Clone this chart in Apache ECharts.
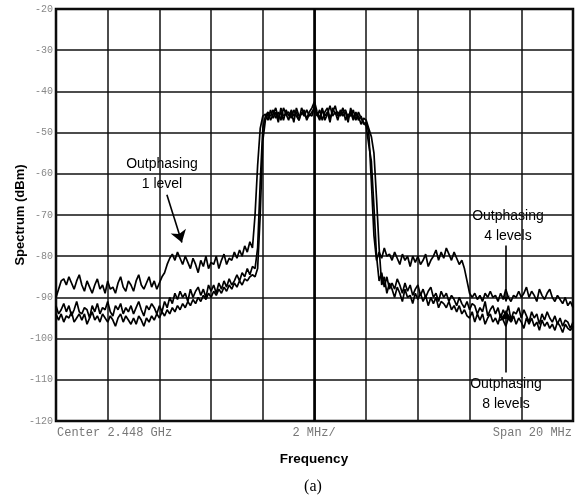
<!DOCTYPE html>
<html>
<head>
<meta charset="utf-8">
<style>html,body{margin:0;padding:0;background:#fff;}#c{width:576px;height:499px;}</style>
<script src="https://cdn.jsdelivr.net/npm/echarts@6/dist/echarts.min.js"></script>
</head>
<body>
<div id="c"></div>
<script>
// Frequency offset from centre (MHz), sweep points every 0.1 MHz from -10 to +10
const startFreq = -10;
const stepFreq = 0.1;
const yTicks = [-120, -110, -100, -90, -80, -70, -60, -50, -40, -30, -20];

// Outphasing 1 level (dBm)
const level1 = [
  -90, -88, -86, -85.5, -87, -85, -86.5, -88, -86, -84.5,
  -87, -88.5, -86, -87.5, -89, -87, -85.5, -88, -87, -89,
  -86, -88, -87.5, -89, -86.5, -85, -87.5, -88.5, -86, -87,
  -88.5, -86, -84.5, -87, -88, -86.5, -85, -87.5, -86, -88,
  -86.5, -85, -84, -82, -80.5, -79.5, -81, -79, -80.5, -82,
  -80, -81.5, -83, -80.5, -82, -84, -81, -82.5, -80, -83,
  -81.5, -82, -80, -83, -81, -79.5, -82, -80.5, -81, -79,
  -80.5, -78.5, -80, -77.5, -79, -76.5, -78, -70, -58, -49,
  -46, -45.5, -47, -44.5, -46.5, -45, -47.5, -44, -46, -45.5,
  -47, -44.5, -46, -45, -47, -44, -45.5, -46.5, -45, -44,
  -42.5, -45, -46.5, -44, -47, -45.5, -43.5, -46, -45, -47,
  -44.5, -46, -45, -47.5, -44, -46.5, -45, -47, -46, -48,
  -47.5, -50, -62, -75, -81, -79, -80.5, -78, -80, -79.5,
  -81, -79, -80.5, -82, -79.5, -81, -80, -82.5, -80, -81.5,
  -80, -82, -81, -79.5, -82.5, -81, -80, -78.5, -81, -79,
  -80.5, -78, -79.5, -81, -79, -80.5, -82, -81, -83, -86,
  -89, -90, -89, -90.5, -89.5, -91, -89, -90, -88.5, -90,
  -89.5, -91, -89, -90.5, -88, -90, -91, -89.5, -90, -88.5,
  -90, -89, -87.5, -90, -88.5, -89.5, -91, -88, -89.5, -90.5,
  -89, -88, -90, -91, -89.5, -90.5, -91.5, -90, -92, -91,
  -92.5
];

// Outphasing 4 levels (dBm)
const level4 = [
  -92, -94, -93, -91.5, -93.5, -92, -94.5, -93, -91, -93.5,
  -94, -92.5, -93, -95, -92, -93.5, -91.5, -94, -92.5, -93,
  -91, -93.5, -94.5, -92, -93, -91.5, -94, -92.5, -93.5, -92,
  -94, -92.5, -91, -93, -94.5, -92, -93, -91.5, -92.5, -94,
  -92, -93.5, -91, -92.5, -90, -91.5, -89, -90.5, -88.5, -90,
  -89, -91, -88, -90, -88.5, -87.5, -89.5, -88, -90, -87,
  -88.5, -87, -89, -86.5, -88, -86, -87.5, -85.5, -87, -86,
  -84.5, -86, -84, -85, -83, -84.5, -82.5, -83, -78, -62,
  -49, -46, -45, -47, -45.5, -44, -46.5, -45, -47, -44.5,
  -46, -45, -47.5, -44, -46, -45.5, -44.5, -47, -45.5, -46,
  -43.5, -46, -44.5, -47, -45, -44, -46.5, -45, -43.5, -46,
  -45.5, -44, -47, -45.5, -46, -44.5, -47, -45, -46.5, -47.5,
  -48.5, -53, -57, -68, -80, -86, -84, -87.5, -85, -88,
  -86.5, -88, -85.5, -87, -89, -86.5, -88.5, -87, -89.5, -88,
  -87, -89.5, -88, -90, -88.5, -87.5, -90, -89, -91, -88.5,
  -90, -89, -91, -89.5, -90.5, -92, -90, -91.5, -92.5, -91,
  -93, -91.5, -92, -94, -92.5, -93.5, -91, -94.5, -93, -92,
  -94, -92.5, -95, -93, -94.5, -92, -95.5, -93.5, -94, -92.5,
  -95, -93, -94.5, -96, -93.5, -95, -94, -96.5, -94, -95.5,
  -93.5, -95, -96, -94.5, -96.5, -95, -97, -95.5, -96, -97.5,
  -96
];

// Outphasing 8 levels (dBm)
const level8 = [
  -94, -95.5, -94, -96, -94.5, -95, -93.5, -96, -95, -94,
  -95.5, -94, -96.5, -95, -93.5, -95.5, -94.5, -96, -94, -95,
  -96, -94.5, -95.5, -97, -95, -94, -96, -94.5, -95.5, -96.5,
  -95, -96.5, -94.5, -95.5, -97, -95, -96, -94.5, -95.5, -94,
  -95, -93.5, -94.5, -93, -94, -92.5, -93.5, -92, -93, -91.5,
  -92.5, -91, -92, -90.5, -91.5, -90, -91, -89.5, -90.5, -89,
  -90, -88.5, -89.5, -88, -89, -87.5, -88.5, -87, -88, -86.5,
  -87.5, -86, -87, -85.5, -86, -85, -84.5, -85, -83, -70,
  -52, -47, -45.5, -46, -44.5, -46.5, -45, -47, -44, -45.5,
  -45, -46.5, -44.5, -46, -47, -45, -46, -44.5, -46, -45,
  -44, -45.5, -47, -44.5, -46, -45, -47.5, -44, -45.5, -45,
  -46, -45, -44.5, -46.5, -45, -47, -45.5, -46, -48, -46.5,
  -47, -49, -51, -55, -66, -78, -87, -85, -89, -86.5,
  -88, -90, -87.5, -89, -91, -88, -90, -89.5, -91.5, -89,
  -90.5, -89, -91, -89.5, -92, -90, -91.5, -90, -92.5, -91,
  -91.5, -92.5, -91, -93, -92, -93.5, -92, -94, -93, -94.5,
  -95, -93.5, -96, -94, -95.5, -94, -96.5, -95, -94, -96,
  -95, -96.5, -94, -95.5, -97, -95, -96, -94.5, -96.5, -95,
  -96, -97.5, -95, -96.5, -95, -97, -96, -98, -95.5, -97,
  -96, -97.5, -96.5, -98, -96, -97, -98.5, -96.5, -97.5, -98,
  -97
];

function toPairs(arr) {
  return arr.map((v, i) => [+(startFreq + i * stepFreq).toFixed(2), v]);
}

const chart = echarts.init(document.getElementById('c'), null, {renderer: 'canvas'});
const lineStyle = {color: '#000', width: 1.7};
const arrowStyle = {color: '#000', width: 1.6, type: 'solid'};

chart.setOption({
  animation: false,
  backgroundColor: '#fff',
  grid: {left: 56, top: 9, right: 3, bottom: 78, show: true, borderColor: '#000', borderWidth: 2.5, backgroundColor: 'transparent'},
  xAxis: {
    type: 'value', min: -10, max: 10, interval: 2,
    axisLine: {show: false}, axisTick: {show: false}, axisLabel: {show: false},
    splitLine: {show: true, lineStyle: {color: '#111', width: 1.5}}
  },
  yAxis: {
    type: 'value', min: yTicks[0], max: yTicks[yTicks.length - 1], interval: 10,
    axisLine: {show: false}, axisTick: {show: false},
    axisLabel: {color: '#888', fontFamily: 'Liberation Mono', fontSize: 10, margin: 3},
    splitLine: {show: true, lineStyle: {color: '#111', width: 1.5}}
  },
  series: [
    {
      type: 'line', data: toPairs(level1), showSymbol: false, lineStyle: lineStyle, silent: true, z: 3,
      markLine: {
        silent: true, animation: false, label: {show: false},
        data: [
          [{coord: [0, -120], symbol: 'none', lineStyle: {color: '#000', width: 2.6, type: 'solid'}}, {coord: [0, -20], symbol: 'none'}],
          [{coord: [-5.71, -65.1], symbol: 'none', lineStyle: arrowStyle}, {coord: [-5.13, -76.7], symbol: 'arrow', symbolSize: 12}],
          [{coord: [7.41, -77.4], symbol: 'none', lineStyle: arrowStyle}, {coord: [7.41, -91.0], symbol: 'arrow', symbolSize: 6}],
          [{coord: [7.41, -108.2], symbol: 'none', lineStyle: arrowStyle}, {coord: [7.41, -93.2], symbol: 'arrow', symbolSize: 11}]
        ]
      }
    },
    {type: 'line', data: toPairs(level4), showSymbol: false, lineStyle: lineStyle, silent: true, z: 3},
    {type: 'line', data: toPairs(level8), showSymbol: false, lineStyle: lineStyle, silent: true, z: 3}
  ],
  graphic: [
    {type: 'text', x: 20, y: 215, rotation: Math.PI / 2, style: {text: 'Spectrum (dBm)', font: 'bold 13px "Liberation Sans"', fill: '#000', align: 'center', verticalAlign: 'middle'}},
    {type: 'text', left: 57, top: 427, style: {text: 'Center 2.448 GHz', font: '12px "Liberation Mono"', fill: '#777'}},
    {type: 'text', x: 314, y: 433, style: {text: '2 MHz/', font: '12px "Liberation Mono"', fill: '#777', align: 'center', verticalAlign: 'middle'}},
    {type: 'text', x: 572, y: 433, style: {text: 'Span 20 MHz', font: '12px "Liberation Mono"', fill: '#777', align: 'right', verticalAlign: 'middle'}},
    {type: 'text', x: 314, y: 459, style: {text: 'Frequency', font: 'bold 13.5px "Liberation Sans"', fill: '#000', align: 'center', verticalAlign: 'middle'}},
    {type: 'text', x: 313, y: 487, style: {text: '(a)', font: '16px "Liberation Serif"', fill: '#000', align: 'center', verticalAlign: 'middle'}},
    {type: 'text', x: 162, y: 164, style: {text: 'Outphasing', font: '14px "Liberation Sans"', fill: '#000', align: 'center', verticalAlign: 'middle'}},
    {type: 'text', x: 162, y: 184, style: {text: '1 level', font: '14px "Liberation Sans"', fill: '#000', align: 'center', verticalAlign: 'middle'}},
    {type: 'text', x: 508, y: 216, style: {text: 'Outphasing', font: '14px "Liberation Sans"', fill: '#000', align: 'center', verticalAlign: 'middle'}},
    {type: 'text', x: 508, y: 236, style: {text: '4 levels', font: '14px "Liberation Sans"', fill: '#000', align: 'center', verticalAlign: 'middle'}},
    {type: 'text', x: 506, y: 384, style: {text: 'Outphasing', font: '14px "Liberation Sans"', fill: '#000', align: 'center', verticalAlign: 'middle'}},
    {type: 'text', x: 506, y: 404, style: {text: '8 levels', font: '14px "Liberation Sans"', fill: '#000', align: 'center', verticalAlign: 'middle'}}
  ]
});
</script>
</body>
</html>
